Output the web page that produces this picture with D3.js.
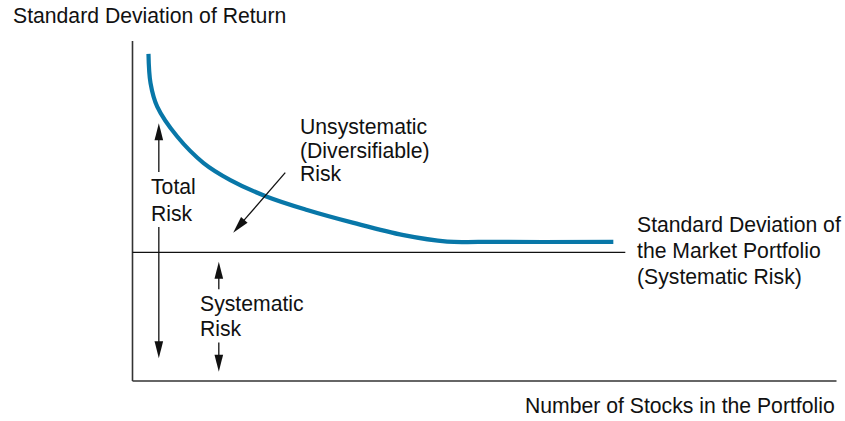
<!DOCTYPE html>
<html>
<head>
<meta charset="utf-8">
<script src="https://cdn.jsdelivr.net/npm/d3@7"></script>
<style>
  html, body { margin: 0; padding: 0; background: #fff; }
  svg { display: block; }
  text { font-family: "Liberation Sans", Arial, Helvetica, sans-serif; fill: #111; }
</style>
</head>
<body>
<svg id="chart" width="845" height="421"></svg>
<script>
// ---- data (arbitrary units: x = number of stocks, y = standard deviation) ----
const stockCounts = [2.27, 2.56, 3.51, 6.35, 10.1, 13.9, 19.1, 24.8, 31.4, 38.5, 44.7, 49.4, 68.3];
const portfolioStdDev = [96.2, 87.6, 80.7, 71.9, 64.1, 59.1, 54.2, 50.3, 46.5, 42.9, 41.0, 40.9, 40.9];
const marketStdDev = 37.85;
const marketLineEnd = 70.0;
const xDomain = [0, 100];
const yDomain = [0, 100];

// annotation arrows [x1, y1, x2(tip), y2(tip)] in data units
const arrows = [
  [3.74, 61.5, 3.74, 75.8],   // total risk up
  [3.74, 45.3, 3.74, 6.7],    // total risk down
  [12.26, 27.0, 12.26, 35.1], // systematic up
  [12.26, 11.3, 12.26, 2.7],  // systematic down
  [21.7, 61.3, 14.3, 43.6]    // unsystematic diagonal
];

const labels = [
  { lines: ["Standard Deviation of Return"], x: 13, y: 22.5 },
  { lines: ["Number of Stocks in the Portfolio"], x: 525, y: 413 },
  { lines: ["Unsystematic", "(Diversifiable)", "Risk"], x: 300, y: 134, dy: 23.7 },
  { lines: ["Total", "Risk"], x: 151, y: 194, dy: 26.5 },
  { lines: ["Systematic", "Risk"], x: 200, y: 311, dy: 25.3 },
  { lines: ["Standard Deviation of", "the Market Portfolio", "(Systematic Risk)"], x: 637, y: 232, dy: 25.8 }
];

// ---- drawing ----
const svg = d3.select("#chart");
const x = d3.scaleLinear().domain(xDomain).range([132.5, 836.5]);
const y = d3.scaleLinear().domain(yDomain).range([381, 41]);

// axes (plain lines, no ticks)
svg.append("line").attr("x1", x(0)).attr("x2", x(0)).attr("y1", y(100)).attr("y2", y(0))
  .attr("stroke", "#333").attr("stroke-width", 1.6);
svg.append("line").attr("x1", x(0)).attr("x2", x(100)).attr("y1", y(0)).attr("y2", y(0))
  .attr("stroke", "#333").attr("stroke-width", 1.6);

// market line
svg.append("line").attr("x1", x(0)).attr("x2", x(marketLineEnd))
  .attr("y1", y(marketStdDev)).attr("y2", y(marketStdDev))
  .attr("stroke", "#111").attr("stroke-width", 1.3);

// portfolio risk curve
const pts = stockCounts.map((d, i) => [d, portfolioStdDev[i]]);
svg.append("path")
  .attr("d", d3.line().x(d => x(d[0])).y(d => y(d[1])).curve(d3.curveCatmullRom.alpha(0.5))(pts))
  .attr("fill", "none").attr("stroke", "#0877a8").attr("stroke-width", 4.2);

// arrows
const headLen = 17, headHalf = 4.3;
arrows.forEach(a => {
  const x1 = x(a[0]), y1 = y(a[1]), x2 = x(a[2]), y2 = y(a[3]);
  const dx = x2 - x1, dy = y2 - y1, L = Math.hypot(dx, dy);
  const ux = dx / L, uy = dy / L;
  const bx = x2 - ux * headLen, by = y2 - uy * headLen;
  svg.append("line").attr("x1", x1).attr("y1", y1).attr("x2", bx + ux * 2).attr("y2", by + uy * 2)
    .attr("stroke", "#111").attr("stroke-width", 1.3);
  svg.append("path")
    .attr("d", `M${x2},${y2}L${bx - uy * headHalf},${by + ux * headHalf}L${bx + uy * headHalf},${by - ux * headHalf}Z`)
    .attr("fill", "#111");
});

// text labels
labels.forEach(l => {
  const t = svg.append("text").attr("x", l.x).attr("y", l.y).style("font-size", "21.2px");
  l.lines.forEach((s, i) => {
    t.append("tspan").attr("x", l.x).attr("y", l.y + i * (l.dy || 0)).text(s);
  });
});
</script>
</body>
</html>
